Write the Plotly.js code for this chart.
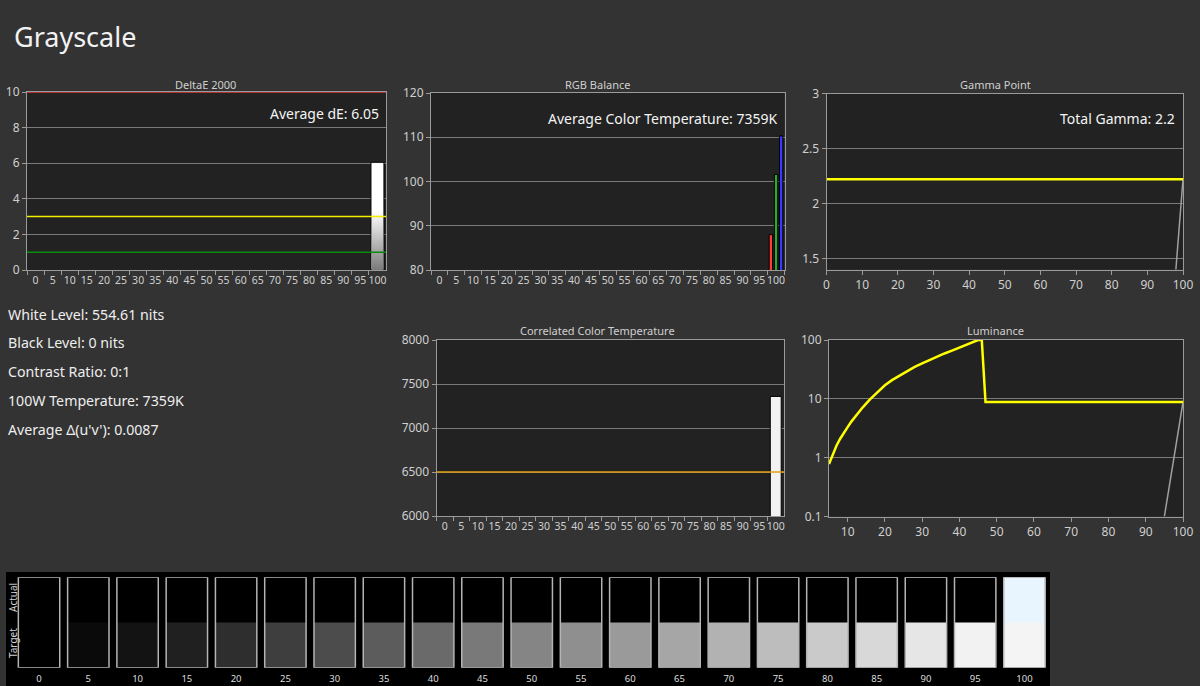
<!DOCTYPE html>
<html>
<head>
<meta charset="utf-8">
<script src="https://cdn.plot.ly/plotly-3.0.1.min.js"></script>
<style>
  html, body { margin: 0; padding: 0; background: #333333; }
  #chart { width: 1200px; height: 686px; }
</style>
</head>
<body>
<div id="chart"></div>
<script>
// ---------- DATA ----------
const categories = ['0','5','10','15','20','25','30','35','40','45','50','55','60','65','70','75','80','85','90','95','100'];

// DeltaE 2000 per grey level (only 100% measured)
const deltaE = [null,null,null,null,null,null,null,null,null,null,null,null,null,null,null,null,null,null,null,null,6.05];
const deltaEThresholds = [10, 3, 1];
const deltaEThresholdColors = ['#e03a3a', '#f0f000', '#0b8a0b'];

// RGB balance (%)
const rgbRed   = [null,null,null,null,null,null,null,null,null,null,null,null,null,null,null,null,null,null,null,null,88.0];
const rgbGreen = [null,null,null,null,null,null,null,null,null,null,null,null,null,null,null,null,null,null,null,null,101.6];
const rgbBlue  = [null,null,null,null,null,null,null,null,null,null,null,null,null,null,null,null,null,null,null,null,110.3];

// Gamma
const gammaX = [0,5,10,15,20,25,30,35,40,45,50,55,60,65,70,75,80,85,90,95,100];
const gammaTarget = [2.22,2.22,2.22,2.22,2.22,2.22,2.22,2.22,2.22,2.22,2.22,2.22,2.22,2.22,2.22,2.22,2.22,2.22,2.22,2.22,2.22];
const gammaActualX = [95, 100];
const gammaActual = [0.17, 2.22];

// Correlated colour temperature (K)
const cct = [null,null,null,null,null,null,null,null,null,null,null,null,null,null,null,null,null,null,null,null,7359];
const cctTarget = [6500];

// Luminance
const lumX = [5,6,7,8,9,10,11,12,13,14,16,18,20,22,24,26,28,30,32,34,36,38,40,42,44,45,46,47,50,60,70,80,90,100];
const lumY = [0.78,1.15,1.6,2.1,2.7,3.3,4.1,5.0,6.0,7.1,9.8,13,17,21,25,30,35,40,46,52,59,66,74,83,94,100,100,8.8,8.8,8.8,8.8,8.8,8.8,8.8];
const lumActualX = [95, 100];
const lumActual = [0.1, 8.8];

// Swatches
const swatchTarget = ['#000000','#0a0a0a','#131313','#202020','#2e2e2e','#3e3e3e','#4c4c4c','#5c5c5c','#6a6a6a','#797979','#858585','#8f8f8f','#9a9a9a','#a6a6a6','#b2b2b2','#bdbdbd','#cacaca','#d8d8d8','#e6e6e6','#f2f2f2','#f4f4f4'];
const swatchActual = ['#000000','#000000','#000000','#000000','#000000','#000000','#000000','#000000','#000000','#000000','#000000','#000000','#000000','#000000','#000000','#000000','#000000','#000000','#000000','#000000','#e8f5fe'];

// Text
const pageTitle = 'Grayscale';
const stats = ['White Level: 554.61 nits','Black Level: 0 nits','Contrast Ratio: 0:1','100W Temperature: 7359K',"Average \u0394(u'v'): 0.0087"];
const panelTitles = ['DeltaE 2000','RGB Balance','Gamma Point','Correlated Color Temperature','Luminance'];
const panelNotes = ['Average dE: 6.05','Average Color Temperature: 7359K','Total Gamma: 2.2'];

// ---------- LAYOUT HELPERS ----------
const W = 1200, H = 686;
const px = x => x / W;
const py = y => 1 - y / H;
const FONT = '"Noto Sans", "Open Sans", sans-serif';
const TICK = '#cfcfcf';
const FRAME = '#9a9a9a';
const GRID = '#7a7a7a';

function catAxis(domain, anchor, fontSize) {
  return {
    domain: domain, anchor: anchor, type: 'category',
    tickmode: 'array', tickvals: categories, ticktext: categories,
    range: [-0.5, categories.length - 0.5], tickangle: 0,
    ticks: 'outside', tickson: 'boundaries', ticklen: 4, tickcolor: FRAME,
    showline: true, linecolor: FRAME, linewidth: 1, mirror: true,
    showgrid: false, zeroline: false,
    tickfont: {size: fontSize || 11, color: TICK, family: FONT},
    fixedrange: true
  };
}
function valAxis(domain, anchor, range, tickvals, ticktext, extra) {
  return Object.assign({
    domain: domain, anchor: anchor, range: range, tickangle: 0,
    tickmode: 'array', tickvals: tickvals, ticktext: ticktext || tickvals.map(String),
    ticks: 'outside', ticklen: 4, tickcolor: FRAME,
    showline: true, linecolor: FRAME, linewidth: 1, mirror: true,
    showgrid: true, gridcolor: GRID, gridwidth: 1, zeroline: false,
    tickfont: {size: 12, color: TICK, family: FONT},
    fixedrange: true
  }, extra || {});
}

// domains
const D = {
  de:  {x: [px(27), px(386)],   y: [py(270), py(92)]},
  rgb: {x: [px(431), px(784.5)], y: [py(270), py(93)]},
  gam: {x: [px(826.5), px(1183)], y: [py(269.5), py(93.5)]},
  cct: {x: [px(436.5), px(784)], y: [py(516), py(340)]},
  lum: {x: [px(829), px(1183)], y: [py(516.5), py(340)]},
  sw:  {x: [px(14.4), px(1049.1)], y: [py(667.7), py(577.3)]}
};

// ---------- TRACES ----------
const traces = [];
const DE_BAR_W = 0.76;
// DeltaE
traces.push({type: 'bar', x: categories, y: deltaE, xaxis: 'x', yaxis: 'y', width: DE_BAR_W,
  marker: {color: '#f6f6f6', line: {color: '#000000', width: 1}}, hoverinfo: 'skip'});
// RGB
[[rgbRed, '#ff3b3b', -0.41], [rgbGreen, '#2fa82f', -0.1], [rgbBlue, '#3a3aff', 0.2]].forEach(function (s) {
  traces.push({type: 'bar', x: categories, y: s[0], xaxis: 'x2', yaxis: 'y2', width: 0.2, offset: s[2],
    marker: {color: s[1], line: {color: '#000000', width: 1}}, hoverinfo: 'skip'});
});
// Gamma
traces.push({type: 'scatter', mode: 'lines', x: gammaActualX, y: gammaActual, xaxis: 'x3', yaxis: 'y3',
  line: {color: '#a0a0a0', width: 1.5}, hoverinfo: 'skip'});
traces.push({type: 'scatter', mode: 'lines', x: gammaX, y: gammaTarget, xaxis: 'x3', yaxis: 'y3',
  line: {color: '#ffff00', width: 2.5}, hoverinfo: 'skip'});
// CCT
traces.push({type: 'bar', x: categories, y: cct, xaxis: 'x4', yaxis: 'y4', width: 0.66,
  marker: {color: '#f2f2f2', line: {color: '#000000', width: 1}}, hoverinfo: 'skip'});
// Luminance
traces.push({type: 'scatter', mode: 'lines', x: lumActualX, y: lumActual, xaxis: 'x5', yaxis: 'y5',
  line: {color: '#a0a0a0', width: 1.5}, hoverinfo: 'skip'});
traces.push({type: 'scatter', mode: 'lines', x: lumX, y: lumY, xaxis: 'x5', yaxis: 'y5',
  line: {color: '#ffff00', width: 2.5}, hoverinfo: 'skip'});
// Swatches: target fills the whole swatch, actual covers the upper half, outline on top
const ones = categories.map(function () { return 1; });
const twos = ones.map(function (v) { return v * 2; });
traces.push({type: 'bar', x: categories, y: twos, base: 0, xaxis: 'x6', yaxis: 'y6', width: 0.84,
  marker: {color: swatchTarget, line: {width: 0}}, hoverinfo: 'skip'});
traces.push({type: 'bar', x: categories, y: ones, base: 1, xaxis: 'x6', yaxis: 'y6', width: 0.84,
  marker: {color: swatchActual, line: {width: 0}}, hoverinfo: 'skip'});
traces.push({type: 'bar', x: categories, y: twos, base: 0, xaxis: 'x6', yaxis: 'y6', width: 0.84,
  marker: {color: 'rgba(0,0,0,0)', line: {color: '#b4b4b4', width: 1.5}}, hoverinfo: 'skip'});

// ---------- SHAPES ----------
const shapes = [];
// swatch panel background
shapes.push({type: 'rect', xref: 'paper', yref: 'paper', x0: px(6), x1: px(1050), y0: 0, y1: py(572),
  fillcolor: '#000000', line: {width: 0}, layer: 'below'});
// plot backgrounds
['', '2', '3', '4', '5'].forEach(function (n) {
  shapes.push({type: 'rect', xref: 'x' + n + ' domain', yref: 'y' + n + ' domain', x0: 0, x1: 1, y0: 0, y1: 1,
    fillcolor: '#222222', line: {width: 0}, layer: 'below'});
});
deltaEThresholds.forEach(function (v, i) {
  shapes.push({type: 'line', xref: 'x domain', yref: 'y', x0: 0, x1: 1, y0: v, y1: v,
    line: {color: deltaEThresholdColors[i], width: 1.5}, layer: 'above'});
});
cctTarget.forEach(function (v) {
  shapes.push({type: 'line', xref: 'x4 domain', yref: 'y4', x0: 0, x1: 1, y0: v, y1: v,
    line: {color: '#e0a012', width: 1.5}, layer: 'above'});
});

// gradient shading of the DeltaE bars (white top fading to grey at the base)
const gradSvg = 'data:image/svg+xml;utf8,' + encodeURIComponent(
  '<svg xmlns="http://www.w3.org/2000/svg" width="10" height="100" preserveAspectRatio="none">' +
  '<defs><linearGradient id="g" x1="0" y1="0" x2="0" y2="1">' +
  '<stop offset="0" stop-color="#ffffff"/><stop offset="0.45" stop-color="#ffffff"/>' +
  '<stop offset="1" stop-color="#7a7a7a"/></linearGradient></defs>' +
  '<rect width="10" height="100" fill="url(#g)"/></svg>');
const images = [];
deltaE.forEach(function (v, i) {
  if (v === null) return;
  images.push({source: gradSvg, xref: 'x', yref: 'y', x: i, y: v * 0.99, sizex: DE_BAR_W * 0.86, sizey: v * 0.99,
    xanchor: 'center', yanchor: 'top', sizing: 'stretch', layer: 'above'});
});

// ---------- ANNOTATIONS ----------
const annotations = [];
annotations.push({text: pageTitle, xref: 'paper', yref: 'paper', x: px(12), y: py(36), xanchor: 'left', yanchor: 'middle',
  showarrow: false, font: {size: 27, color: '#f2f2f2', family: FONT}});
stats.forEach(function (s, i) {
  annotations.push({text: s, xref: 'paper', yref: 'paper', x: px(6), y: py([314, 342.5, 371, 400, 429][i]),
    xanchor: 'left', yanchor: 'middle', showarrow: false, font: {size: 14.2, color: '#eeeeee', family: FONT}});
});
const titlePos = [[205, 84], [597, 84], [995, 84], [597, 330], [995, 330]];
panelTitles.forEach(function (t, i) {
  annotations.push({text: t, xref: 'paper', yref: 'paper', x: px(titlePos[i][0]), y: py(titlePos[i][1]),
    xanchor: 'center', yanchor: 'middle', showarrow: false, font: {size: 11, color: '#cfcfcf', family: FONT}});
});
const notePos = [[381, 113], [779, 119], [1177, 119]];
panelNotes.forEach(function (t, i) {
  annotations.push({text: t, xref: 'paper', yref: 'paper', x: px(notePos[i][0]), y: py(notePos[i][1]),
    xanchor: 'right', yanchor: 'middle', showarrow: false, font: {size: 14, color: '#f4f4f4', family: FONT}});
});
[['Actual', 598], ['Target', 643]].forEach(function (a) {
  annotations.push({text: a[0], xref: 'paper', yref: 'paper', x: px(13), y: py(a[1]), textangle: -90,
    xanchor: 'center', yanchor: 'middle', showarrow: false, font: {size: 10, color: '#d0d0d0', family: FONT}});
});

// ---------- LAYOUT ----------
const layout = {
  width: W, height: H,
  margin: {l: 0, r: 0, t: 0, b: 0, pad: 0},
  paper_bgcolor: '#333333', plot_bgcolor: 'rgba(0,0,0,0)',
  showlegend: false, barmode: 'overlay',
  font: {family: FONT, color: TICK},
  xaxis: catAxis(D.de.x, 'y', 10.5),
  yaxis: valAxis(D.de.y, 'x', [0, 10], [0, 2, 4, 6, 8, 10]),
  xaxis2: catAxis(D.rgb.x, 'y2', 10.5),
  yaxis2: valAxis(D.rgb.y, 'x2', [80, 120], [80, 90, 100, 110, 120]),
  xaxis3: valAxis(D.gam.x, 'y3', [0, 100], [0, 10, 20, 30, 40, 50, 60, 70, 80, 90, 100], null, {showgrid: false}),
  yaxis3: valAxis(D.gam.y, 'x3', [1.4, 3], [1.5, 2, 2.5, 3]),
  xaxis4: catAxis(D.cct.x, 'y4', 10.5),
  yaxis4: valAxis(D.cct.y, 'x4', [6000, 8000], [6000, 6500, 7000, 7500, 8000]),
  xaxis5: valAxis(D.lum.x, 'y5', [5, 100], [10, 20, 30, 40, 50, 60, 70, 80, 90, 100], null, {showgrid: false}),
  yaxis5: valAxis(D.lum.y, 'x5', [-1, 2], [0.1, 1, 10, 100], ['0.1', '1', '10', '100'], {type: 'log'}),
  xaxis6: Object.assign(catAxis(D.sw.x, 'y6', 9), {showline: false, ticks: '', mirror: false, ticklabelstandoff: 4, tickfont: {size: 9.5, color: '#dddddd', family: FONT}}),
  yaxis6: {domain: D.sw.y, anchor: 'x6', range: [0, 2], visible: false, fixedrange: true},
  shapes: shapes,
  images: images,
  annotations: annotations
};

Plotly.newPlot('chart', traces, layout, {displayModeBar: false, staticPlot: true});
</script>
</body>
</html>
